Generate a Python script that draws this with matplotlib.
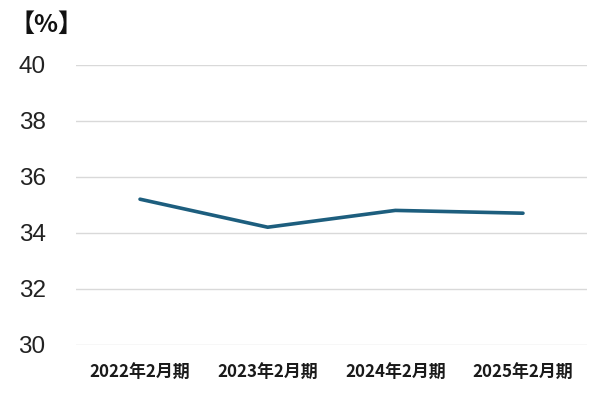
import matplotlib

matplotlib.use("Agg")
import matplotlib.pyplot as plt

plt.rcParams["font.family"] = ["Noto Sans CJK JP", "DejaVu Sans"]

# ==================== Data ====================
PERIODS = ["2022年2月期", "2023年2月期", "2024年2月期", "2025年2月期"]
RATIO_PCT = [35.2, 34.2, 34.8, 34.7]
Y_TICKS = [30, 32, 34, 36, 38, 40]
# ==============================================

LINE_COLOR = "#1d5e7e"
GRID_COLOR = "#d9d9d9"


def main():
    fig = plt.figure(figsize=(6.0, 3.95), dpi=100)
    ax = fig.add_axes([0.127, 0.127, 0.851, 0.709])

    x = list(range(len(PERIODS)))
    ax.plot(x, RATIO_PCT, color=LINE_COLOR, linewidth=2.6, solid_capstyle="round")

    ax.set_xlim(-0.5, len(PERIODS) - 0.5)
    ax.set_ylim(min(Y_TICKS), max(Y_TICKS))
    ax.set_yticks(Y_TICKS)
    ax.set_xticks(x)
    ax.set_xticklabels(PERIODS, fontsize=12.2, fontweight="bold", color="#1a1a1a")
    ax.set_yticklabels([str(v) for v in Y_TICKS], family="Liberation Sans",
                       fontsize=17.5, color="#222222")
    ax.tick_params(axis="y", length=0, pad=22)
    ax.tick_params(axis="x", length=0, pad=13)

    ax.grid(axis="y", color=GRID_COLOR, linewidth=1.0)
    ax.set_axisbelow(True)
    for spine in ax.spines.values():
        spine.set_visible(False)

    fig.text(0.015, 0.937, "【%】", fontsize=18, fontweight="bold", color="#111111",
             ha="left", va="center")

    fig.savefig("out.png", dpi=100)
    plt.close(fig)


if __name__ == "__main__":
    main()
